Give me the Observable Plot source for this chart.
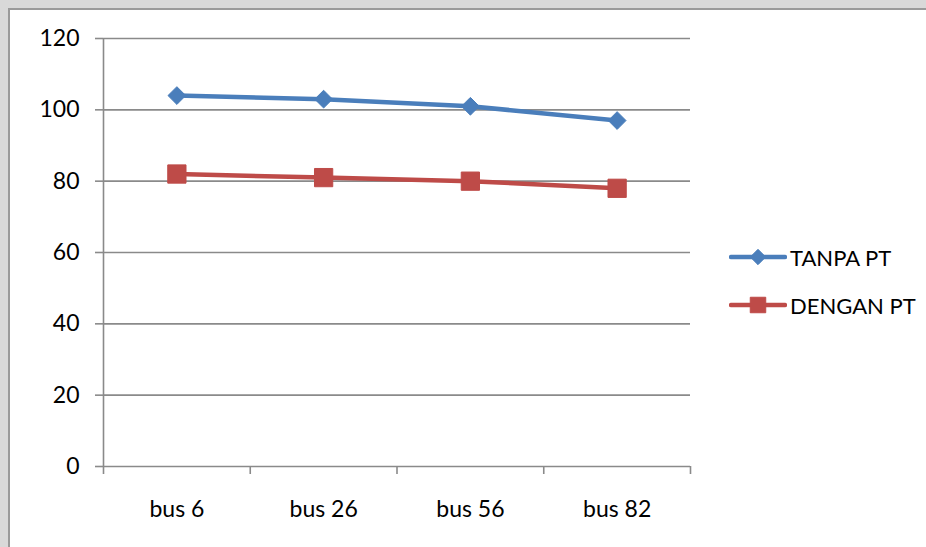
<!DOCTYPE html>
<html>
<head>
<meta charset="utf-8">
<script src="https://cdn.jsdelivr.net/npm/d3@7"></script>
<script src="https://cdn.jsdelivr.net/npm/@observablehq/plot@0.6"></script>
<style>
  html, body { margin: 0; padding: 0; }
  body { width: 926px; height: 547px; background: #d9d9d9; overflow: hidden; font-family: Lato, "Open Sans", sans-serif; }
  #sheet { position: absolute; left: 8px; top: 8px; width: 940px; height: 560px; background: #fff; border: 2px solid #9a9a9a; box-sizing: border-box; }
  #chart { position: absolute; left: 0; top: 0; }
  #legend { position: absolute; left: 729px; top: 240px; font-size: 22px; color: #000; }
  #legend .item { display: flex; align-items: center; height: 34px; margin-bottom: 14px; }
  #legend svg { margin-right: 3px; }
</style>
</head>
<body>
<div id="sheet"></div>
<div id="chart"></div>
<div id="legend"></div>
<script>
// Bus locations along the feeder
const categories = ["bus 6", "bus 26", "bus 56", "bus 82"];
// Values without and with the PT
const tanpaPT = [104, 103, 101, 97];
const denganPT = [82, 81, 80, 78];
const seriesNames = ["TANPA PT", "DENGAN PT"];
const seriesColors = ["#4a7ebb", "#be4b48"];
const yTicks = [0, 20, 40, 60, 80, 100, 120];

// Each category sits in the middle of its slot; slot edges carry the axis ticks
const toRows = vals => vals.map((v, i) => ({pos: i + 0.5, value: v}));
const tanpaRows = toRows(tanpaPT);
const denganRows = toRows(denganPT);
const edges = d3.range(categories.length + 1);
const centers = categories.map((_, i) => i + 0.5);

const font = "Lato, 'Open Sans', sans-serif";
const grid = "#8a8a8a";

const chart = Plot.plot({
  width: 926,
  height: 547,
  marginLeft: 103,
  marginRight: 236,
  marginTop: 38,
  marginBottom: 81,
  style: {fontFamily: font, fontSize: "23px", color: "#000", background: "transparent", overflow: "visible"},
  x: {domain: [0, categories.length]},
  y: {domain: [0, 120]},
  marks: [
    Plot.gridY(yTicks, {stroke: grid, strokeOpacity: 1, strokeWidth: 1.6}),
    Plot.axisY({ticks: yTicks, tickSize: 8, tickPadding: 16, stroke: grid, strokeWidth: 1.6, strokeOpacity: 1, label: null, fill: "#000"}),
    Plot.ruleX([0], {stroke: grid, strokeWidth: 1.6}),
    Plot.axisX({ticks: edges, tickSize: 8, tickFormat: () => "", stroke: grid, strokeWidth: 1.6, strokeOpacity: 1, label: null}),
    Plot.axisX({ticks: centers, tickSize: 0, tickPadding: 34, tickFormat: d => categories[Math.floor(d)], label: null, fill: "#000"}),
    Plot.line(tanpaRows, {x: "pos", y: "value", stroke: seriesColors[0], strokeWidth: 4.5}),
    Plot.line(denganRows, {x: "pos", y: "value", stroke: seriesColors[1], strokeWidth: 4.5}),
    Plot.dot(tanpaRows, {x: "pos", y: "value", symbol: "diamond2", fill: seriesColors[0], stroke: seriesColors[0], strokeWidth: 1, r: 8}),
    Plot.dot(denganRows, {x: "pos", y: "value", symbol: "square", fill: seriesColors[1], stroke: seriesColors[1], strokeWidth: 1, r: 10.3})
  ]
});
document.getElementById("chart").appendChild(chart);

// Legend: a line segment with the series marker, then the series name
const legend = d3.select("#legend");
seriesNames.forEach((name, s) => {
  const item = legend.append("div").attr("class", "item");
  const svg = item.append("svg").attr("width", 58).attr("height", 24);
  svg.append("line").attr("x1", 2).attr("x2", 56).attr("y1", 12).attr("y2", 12)
    .attr("stroke", seriesColors[s]).attr("stroke-width", 4.5).attr("stroke-linecap", "round");
  const sym = s === 0 ? d3.symbolDiamond2 : d3.symbolSquare;
  const size = s === 0 ? 150 : 240;
  svg.append("path").attr("d", d3.symbol(sym, size)()).attr("transform", "translate(29,12)")
    .attr("fill", seriesColors[s]).attr("stroke", seriesColors[s]);
  item.append("span").text(name);
});
</script>
</body>
</html>
